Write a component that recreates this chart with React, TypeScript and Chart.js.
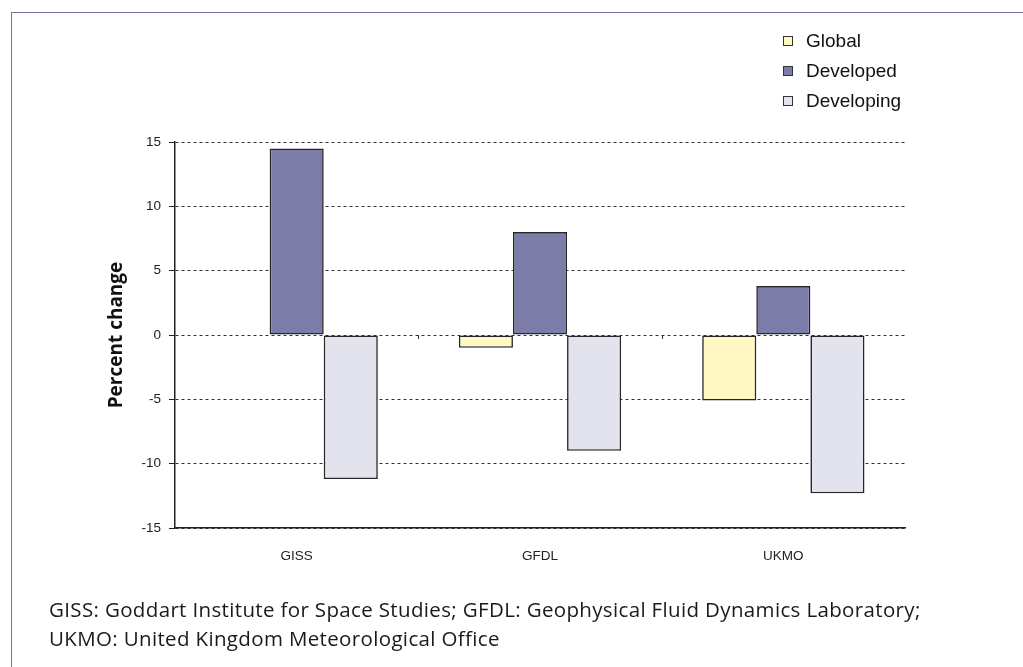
import React, { useEffect, useRef } from "react";
import { Chart, registerables } from "chart.js";

Chart.register(...registerables);

const categories = ["GISS", "GFDL", "UKMO"];
const seriesNames = ["Global", "Developed", "Developing"];
const globalValues = [0, -1, -5.1];
const developedValues = [14.5, 8, 3.8];
const developingValues = [-11.2, -9, -12.3];
const seriesColors = ["#fff8c2", "#7b7ca8", "#e3e3ee"];
const yTicks = [-15, -10, -5, 0, 5, 10, 15];
const footnoteLines = [
  "GISS: Goddart Institute for Space Studies; GFDL: Geophysical Fluid Dynamics Laboratory;",
  "UKMO: United Kingdom Meteorological Office",
];

const zeroTicksPlugin = {
  id: "zeroTicks",
  afterDatasetsDraw(chart: any) {
    const x = chart.scales.x;
    const y = chart.scales.y;
    const ctx = chart.ctx;
    const y0 = y.getPixelForValue(0);
    ctx.save();
    ctx.strokeStyle = "#333";
    ctx.lineWidth = 1;
    for (let i = 1; i < categories.length; i++) {
      const px = Math.round((x.getPixelForValue(i - 1) + x.getPixelForValue(i)) / 2) + 0.5;
      ctx.beginPath();
      ctx.moveTo(px, y0);
      ctx.lineTo(px, y0 + 4);
      ctx.stroke();
    }
    ctx.restore();
  },
};

export default function App() {
  const ref = useRef<HTMLCanvasElement>(null);
  useEffect(() => {
    if (!ref.current) return;
    const values = [globalValues, developedValues, developingValues];
    const chart = new Chart(ref.current, {
      type: "bar",
      data: {
        labels: categories,
        datasets: seriesNames.map((name, i) => ({
          label: name,
          data: values[i],
          backgroundColor: seriesColors[i],
          borderColor: "#262626",
          borderWidth: 1.6,
          borderSkipped: false,
          barPercentage: 1,
          categoryPercentage: 0.667,
        })),
      },
      options: {
        animation: false,
        responsive: false,
        maintainAspectRatio: false,
        layout: { padding: { left: 95, right: 118, top: 142, bottom: 99 } },
        plugins: { legend: { display: false }, tooltip: { enabled: false } },
        scales: {
          x: {
            grid: { display: false, drawTicks: false },
            border: { display: true, color: "#222", width: 1.5 },
            ticks: { color: "#222", font: { family: "Arial, 'Liberation Sans'", size: 13.5 }, padding: 20 },
            afterFit: (s: any) => {
              s.height = 40;
            },
          },
          y: {
            min: -15,
            max: 15,
            afterBuildTicks: (s: any) => {
              s.ticks = yTicks.map((v) => ({ value: v }));
            },
            grid: {
              color: "#333",
              lineWidth: 1,
              tickLength: 6,
              tickColor: "#222",
              tickBorderDash: [],
            },
            border: { display: true, color: "#222", width: 1.5, dash: [3, 3] },
            ticks: {
              color: "#222",
              font: { family: "Arial, 'Liberation Sans'", size: 13.5 },
              padding: 8,
            },
            title: {
              display: true,
              text: "Percent change",
              color: "#111",
              font: { family: "'Open Sans', 'Noto Sans', sans-serif", size: 19, weight: "bold", lineHeight: 1.2 },
              padding: { top: 10, bottom: 0 },
            },
            afterFit: (s: any) => {
              s.width = 80;
            },
          },
        },
      },
      plugins: [zeroTicksPlugin],
    });
    return () => chart.destroy();
  }, []);

  return (
    <div style={{ position: "absolute", left: 0, top: 0, width: 1023, height: 667, background: "#fff", overflow: "hidden" }}>
      <div
        style={{
          position: "absolute",
          left: 11,
          top: 12,
          width: 1100,
          height: 700,
          borderTop: "1.5px solid #7073a3",
          borderLeft: "1.5px solid #7073a3",
        }}
      />
      <canvas ref={ref} width={1023} height={667} style={{ position: "absolute", left: 0, top: 0, width: 1023, height: 667 }} />
      <div style={{ position: "absolute", left: 783, top: 26, fontFamily: "Arial, 'Liberation Sans'", fontSize: 19, color: "#111" }}>
        {seriesNames.map((n, i) => (
          <div key={n} style={{ display: "flex", alignItems: "center", height: 30 }}>
            <span
              style={{
                display: "inline-block",
                width: 8,
                height: 8,
                background: seriesColors[i],
                border: "1px solid #333",
                marginRight: 13,
              }}
            />
            <span>{n}</span>
          </div>
        ))}
      </div>
      <div
        style={{
          position: "absolute",
          left: 49,
          top: 595,
          fontFamily: "'Open Sans', 'Noto Sans', sans-serif",
          fontSize: 20.5,
          letterSpacing: "0.35px",
          lineHeight: "29px",
          color: "#1a1a1a",
          whiteSpace: "nowrap",
        }}
      >
        {footnoteLines.map((l) => (
          <div key={l}>{l}</div>
        ))}
      </div>
    </div>
  );
}
